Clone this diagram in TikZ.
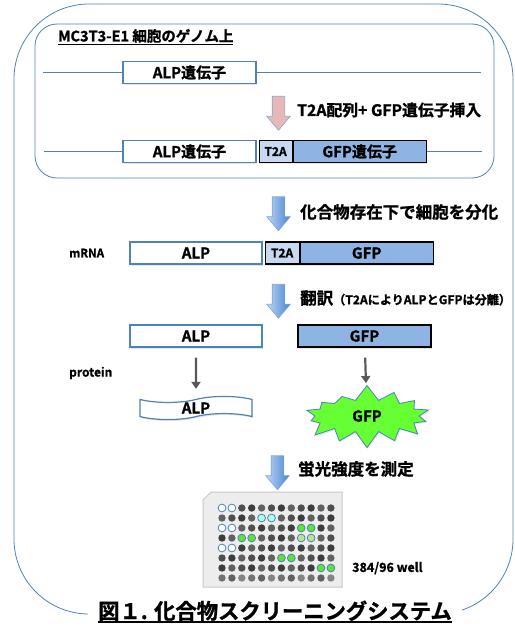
\documentclass[tikz,border=0pt]{standalone}
\usepackage{fontspec}
\setmainfont{Noto Sans CJK JP}[BoldFont={Noto Sans CJK JP Bold}, BoldFeatures={FakeBold=1.2}]
\usepackage{tikz}
\usetikzlibrary{positioning, arrows.meta, shapes.arrows, shapes.symbols, shadows}

\definecolor{lineblue}{HTML}{4F81BD}
\definecolor{gfpblue}{HTML}{8EB4E3}
\definecolor{t2ablue}{HTML}{C6D9F1}
\definecolor{arrowpink}{HTML}{E6B9B8}
\definecolor{arrowtop}{HTML}{BCD5F4}
\definecolor{arrowbot}{HTML}{4A84D2}
\definecolor{glow}{HTML}{66FF33}
\definecolor{platebg}{HTML}{EDEDED}

\newcommand{\fs}[1]{\fontsize{#1}{#1}\selectfont\bfseries}
\newcommand{\undl}[3]{\setbox0=\hbox{#3}\rlap{\rule[-#1]{\wd0}{#2}}\box0}

\begin{document}
\begin{tikzpicture}[
    x=1pt, y=-1pt,
    softshadow/.style={drop shadow={shadow xshift=1pt, shadow yshift=-1.5pt, opacity=0.2}},
    gene/.style={rectangle, draw=lineblue, fill=white, line width=1.1pt, minimum height=22pt, inner sep=0pt, font=\fs{15}, softshadow},
    t2a/.style={gene, draw=black, fill=t2ablue, font=\fs{12}},
    gfp/.style={gene, draw=black, fill=gfpblue},
    dna/.style={draw=lineblue, line width=1.8pt},
    frame/.style={draw=lineblue, line width=0.8pt},
    fatarrow/.style={single arrow, rotate=-90, minimum height=34pt, minimum width=23pt, inner xsep=0pt, inner ysep=6pt, single arrow head extend=5.5pt, single arrow tip angle=80, draw=lineblue!70, line width=0.6pt},
    insarrow/.style={fatarrow, fill=arrowpink},
    steparrow/.style={fatarrow, left color=arrowtop, right color=arrowbot},
    steplabel/.style={anchor=west, inner sep=0pt, font=\fs{16.5}},
    rowlabel/.style={anchor=west, inner sep=0pt, font=\fs{11.5}},
    down/.style={draw=black!65, line width=2.2pt, -{Triangle[width=9pt, length=7pt]}},
    band/.style={tape, draw=lineblue, fill=white, line width=1.2pt, minimum width=112pt, minimum height=20pt, tape bend height=6pt, inner sep=0pt, font=\fs{15}, softshadow},
    burst/.style={starburst, starburst points=14, starburst point height=16pt, random starburst=7, fill=glow, draw=lineblue, line width=0.8pt, minimum width=136pt, minimum height=64pt, inner sep=0pt, font=\fs{15}, softshadow}
]
\useasboundingbox (0,0) rectangle (514,626);

% outer frame and genome panel
\draw[frame, rounded corners=75pt] (14,4) rectangle (513,614);
\draw[frame, rounded corners=22pt] (35,24) rectangle (494,178);
\node[anchor=west, inner sep=0pt, font=\fs{14.5}] (chrom) at (58,37) {\undl{3.5pt}{1.3pt}{MC3T3-E1 細胞のゲノム上}};

% before insertion
\node[gene, minimum width=133pt] (alpA) at (189.5,72.5) {ALP遺伝子};
\coordinate (dnaA1) at (43,72.5);
\coordinate (dnaA2) at (481,72.5);
\draw[dna] (dnaA1) -- (alpA);
\draw[dna] (alpA) -- (dnaA2);

\node[insarrow] (ins) at (278.5,109.5) {};
\node[steplabel, font=\fs{15.8}] (insText) at (297,110) {T2A配列+ GFP遺伝子挿入};

% after insertion
\node[gene, minimum width=133pt] (alpB) at (189.5,151.5) {ALP遺伝子};
\node[t2a, minimum width=33pt, right=2pt of alpB] (t2aB) {T2A};
\node[gfp, minimum width=133pt, right=0pt of t2aB] (gfpB) {GFP遺伝子};
\coordinate (dnaB1) at (44,151.5);
\coordinate (dnaB2) at (482,151.5);
\draw[dna] (dnaB1) -- (alpB);
\draw[dna] (gfpB) -- (dnaB2);

% differentiation
\node[steparrow] (diff) at (278.5,210) {};
\node[steplabel] (diffText) at (300,212) {化合物存在下で細胞を分化};

% mRNA
\node[rowlabel] (mrna) at (69,253) {mRNA};
\node[gene, minimum width=132pt] (alpM) at (196,253) {ALP};
\node[t2a, minimum width=34pt, right=2pt of alpM] (t2aM) {T2A};
\node[gfp, minimum width=133pt, right=0pt of t2aM] (gfpM) {GFP};

% translation
\node[steparrow] (trans) at (278.5,297.5) {};
\node[steplabel] (transText) at (300,298) {翻訳{\fs{12.1}（T2AによりALPとGFPは分離）}};

% protein
\node[gene, minimum width=132pt] (alpP) at (196,336) {ALP};
\node[gfp, minimum width=133pt] (gfpP) at (364.5,336) {GFP};
\node[rowlabel, font=\fs{12}] (prot) at (69,373) {protein};

\node[band] (alpBand) at (196,408) {ALP};
\node[burst] (gfpBurst) at (367,416) {GFP};
\draw[down, shorten <=10pt, shorten >=10pt] (alpP) -- (alpBand);
\draw[down, shorten <=10pt, shorten >=3pt] (gfpP) -- (gfpBurst);

% readout
\node[steparrow] (read) at (277.5,469) {};
\node[steplabel] (readText) at (298,469) {蛍光強度を測定};

% well plate
\fill[platebg, draw=black!22, line width=1pt] (203,500) -- (211,492) -- (342,492) -- (342,587) -- (203,587) -- cycle;
\foreach \r in {1,...,8}
  \foreach \c in {1,...,12} {
    \pgfmathtruncatemacro{\tone}{\r==8 ? 48+7*mod(\c,3) : 62+7*mod(\c+\r,3)}
    \fill[black!\tone] (212.1+9.9*\c, 498+10*\r) circle (3.7pt);
  }
\foreach \r/\c/\col in {1/1/white, 1/2/white, 3/1/white, 3/2/white, 5/1/white, 5/2/white,
    2/5/green!40!cyan!30, 2/6/green!40!cyan!30, 3/9/glow!90!black, 3/10/glow!90!black,
    4/3/glow!90!black, 4/4/glow!90!black, 4/9/yellow!40!green!45, 4/10/yellow!40!green!45,
    6/7/glow!90!black, 6/8/glow!90!black, 7/11/glow!90!black, 7/12/glow!90!black}
  \filldraw[fill=\col, draw=lineblue, line width=0.8pt] (212.1+9.9*\c, 498+10*\r) circle (3.9pt);
\node[rowlabel, font=\fs{12.5}] (wells) at (352,568) {384/96 well};

% caption
\node[fill=white, inner xsep=10pt, inner ysep=3pt, anchor=base, font=\fs{21.3}] (caption) at (275,619) {\undl{3.5pt}{1.8pt}{図１. 化合物スクリーニングシステム}};
\end{tikzpicture}
\end{document}
